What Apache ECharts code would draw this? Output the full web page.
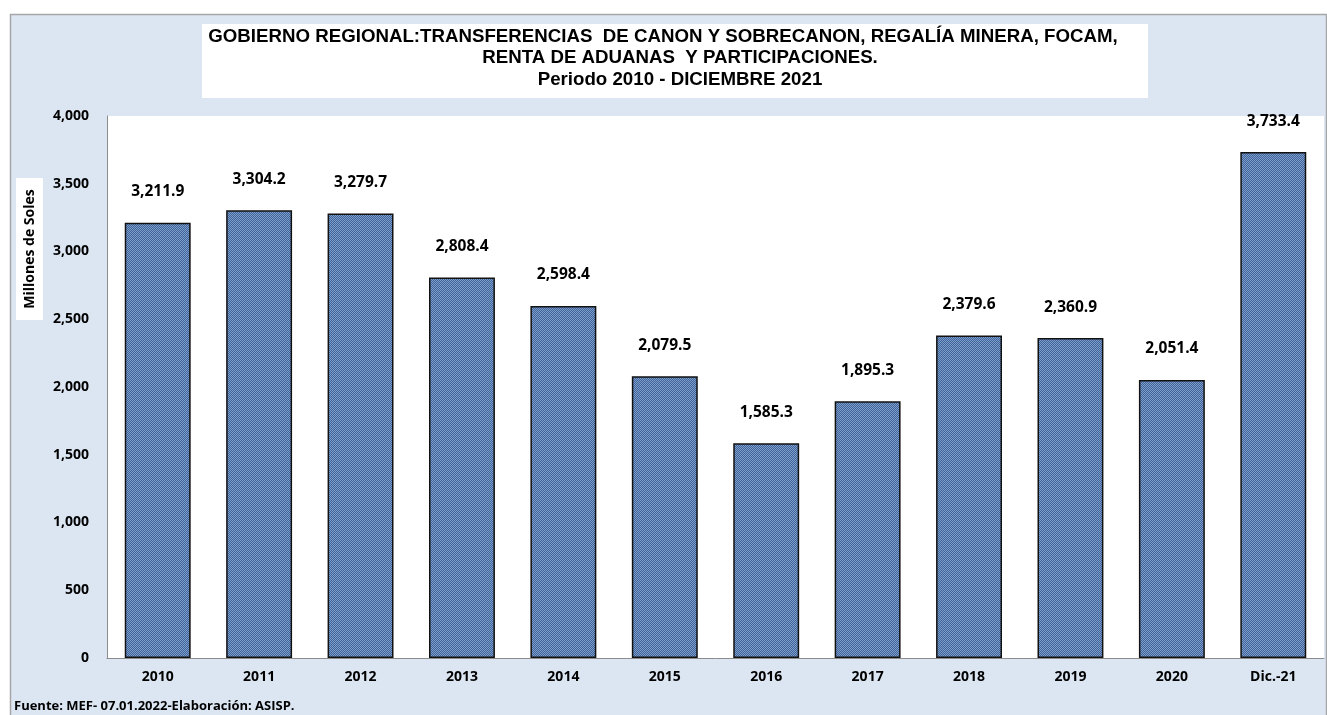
<!DOCTYPE html>
<html>
<head>
<meta charset="utf-8">
<script src="https://cdn.jsdelivr.net/npm/echarts@6/dist/echarts.min.js"></script>
<style>
html,body{margin:0;padding:0;background:#ffffff;}
#chart{width:1327px;height:715px;}
</style>
</head>
<body>
<div id="chart"></div>
<script>
const categories = ['2010','2011','2012','2013','2014','2015','2016','2017','2018','2019','2020','Dic.-21'];
const values = [3211.9, 3304.2, 3279.7, 2808.4, 2598.4, 2079.5, 1585.3, 1895.3, 2379.6, 2360.9, 2051.4, 3733.4];
const yTicks = [0, 500, 1000, 1500, 2000, 2500, 3000, 3500, 4000];
const titleLines = [
  'GOBIERNO REGIONAL:TRANSFERENCIAS  DE CANON Y SOBRECANON, REGALÍA MINERA, FOCAM,',
  'RENTA DE ADUANAS  Y PARTICIPACIONES.',
  'Periodo 2010 - DICIEMBRE 2021'
];
const yAxisName = 'Millones de Soles';
const footer = 'Fuente: MEF- 07.01.2022-Elaboración: ASISP.';

function fmt(v, d) {
  return v.toLocaleString('en-US', {minimumFractionDigits: d, maximumFractionDigits: d});
}

// checkerboard pattern for bars
const pc = document.createElement('canvas');
pc.width = 2; pc.height = 2;
const pctx = pc.getContext('2d');
pctx.fillStyle = '#3e6299'; pctx.fillRect(0,0,2,2);
pctx.fillStyle = '#7f9fcb'; pctx.fillRect(0,0,1,1); pctx.fillRect(1,1,1,1);

const chart = echarts.init(document.getElementById('chart'), null, {renderer: 'canvas'});
const lblFont = '"Open Sans", "Noto Sans", sans-serif';
const titleStyle = {fontFamily: '"Liberation Sans", Arial, sans-serif', fontWeight: 'bold', fontSize: 18.7, lineHeight: 21.5, color: '#000', align: 'center'};
chart.setOption({
  backgroundColor: '#ffffff',
  animation: false,
  graphic: [
    {type: 'rect', z: -10, shape: {x: 10.5, y: 14.5, width: 1316, height: 710}, style: {fill: '#dce6f2', stroke: '#a6a6a6', lineWidth: 1.5}},
    {type: 'rect', z: -5, shape: {x: 107, y: 116, width: 1217, height: 542}, style: {fill: '#ffffff'}},
    {type: 'rect', z: -5, shape: {x: 202, y: 24, width: 946, height: 74}, style: {fill: '#ffffff'}},
    {type: 'rect', z: -5, shape: {x: 16, y: 178, width: 27, height: 142}, style: {fill: '#ffffff'}},
    {type: 'text', x: 30, y: 249, rotation: Math.PI/2, style: {text: yAxisName, fill: '#000', font: 'bold 14px ' + lblFont, textAlign: 'center', textVerticalAlign: 'middle'}},
    {type: 'text', left: 14, top: 700, style: {text: footer, fill: '#000', font: 'bold 13px ' + lblFont}}
  ],
  title: {
    text: '{a1|' + titleLines[0] + '}\n{a|' + titleLines[1] + '}\n{a|' + titleLines[2] + '}',
    left: 675, top: 21, textAlign: 'center',
    textStyle: {
      rich: {
        a1: Object.assign({}, titleStyle, {padding: [0, 34, 0, 0]}),
        a: titleStyle
      }
    }
  },
  grid: {left: 107, right: 3, top: 116, bottom: 57, containLabel: false},
  xAxis: {
    type: 'category', data: categories,
    axisLine: {show: true, lineStyle: {color: '#8c8c8c', width: 1}},
    axisTick: {show: false},
    axisLabel: {color: '#000', fontFamily: lblFont, fontWeight: 'bold', fontSize: 14, margin: 12}
  },
  yAxis: {
    type: 'value', min: yTicks[0], max: yTicks[yTicks.length-1], interval: yTicks[1]-yTicks[0],
    axisLine: {show: true, lineStyle: {color: '#8c8c8c', width: 1}},
    axisTick: {show: false},
    splitLine: {show: false},
    axisLabel: {color: '#000', fontFamily: lblFont, fontWeight: 'bold', fontSize: 14, margin: 18, formatter: v => fmt(v, 0)}
  },
  series: [{
    type: 'bar', data: values, barWidth: '65%',
    itemStyle: {color: {image: pc, repeat: 'repeat'}, borderColor: '#111', borderWidth: 1.5},
    label: {show: true, position: 'top', distance: 23, color: '#000', fontFamily: lblFont, fontWeight: 'bold', fontSize: 15.5, formatter: p => fmt(p.value, 1)}
  }]
});
</script>
</body>
</html>
